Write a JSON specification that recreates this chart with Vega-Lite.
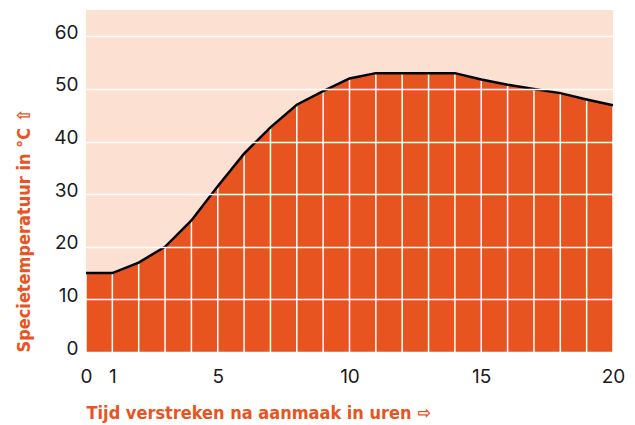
{
  "$schema": "https://vega.github.io/schema/vega-lite/v6.json",
  "width": 527,
  "height": 342,
  "autosize": {"type": "none"},
  "padding": {"left": 86, "top": 10, "right": 22, "bottom": 73},
  "background": "white",
  "view": {"fill": "#FCE1D2", "stroke": null},
  "data": {"values": [
    {"hour": 0, "temp": 15},
    {"hour": 1, "temp": 15},
    {"hour": 2, "temp": 17},
    {"hour": 3, "temp": 20},
    {"hour": 4, "temp": 25},
    {"hour": 5, "temp": 31.5},
    {"hour": 6, "temp": 37.7},
    {"hour": 7, "temp": 42.7},
    {"hour": 8, "temp": 47},
    {"hour": 9, "temp": 49.6},
    {"hour": 10, "temp": 52},
    {"hour": 11, "temp": 53},
    {"hour": 12, "temp": 53},
    {"hour": 13, "temp": 53},
    {"hour": 14, "temp": 53},
    {"hour": 15, "temp": 51.8},
    {"hour": 16, "temp": 50.8},
    {"hour": 17, "temp": 50},
    {"hour": 18, "temp": 49.2},
    {"hour": 19, "temp": 48},
    {"hour": 20, "temp": 46.9}
  ]},
  "encoding": {
    "x": {
      "field": "hour", "type": "quantitative",
      "scale": {"domain": [0, 20], "nice": false, "zero": false},
      "axis": {
        "values": [0, 1, 5, 10, 15, 20],
        "grid": false, "domain": false, "ticks": false,
        "labelFont": "Inter", "labelFontSize": 19, "labelColor": "#1a1a1a",
        "labelPadding": 15, "labelFlush": false,
        "title": "Tijd verstreken na aanmaak in uren  ⇨",
        "titleFont": "DejaVu Sans Condensed, Roboto", "titleFontWeight": "bold",
        "titleFontSize": 18, "titleColor": "#E8541F",
        "titleAnchor": "start", "titleAlign": "left", "titlePadding": 18
      }
    },
    "y": {
      "field": "temp", "type": "quantitative",
      "scale": {"domain": [0, 65], "nice": false},
      "axis": {
        "values": [0, 10, 20, 30, 40, 50, 60],
        "grid": true, "gridColor": "white", "gridWidth": 1.5, "zindex": 1,
        "domain": false, "ticks": false,
        "labelFont": "Inter", "labelFontSize": 19, "labelColor": "#1a1a1a",
        "labelPadding": 8, "labelOffset": -4,
        "title": "Specietemperatuur in °C  ⇧",
        "titleFont": "DejaVu Sans Condensed, Roboto", "titleFontWeight": "bold",
        "titleFontSize": 18, "titleColor": "#E8541F",
        "titleAnchor": "start", "titlePadding": 20
      }
    }
  },
  "layer": [
    {"mark": {"type": "area", "color": "#E8541F"}},
    {
      "mark": {"type": "rule", "color": "white", "strokeWidth": 1.5},
      "encoding": {"y": {"datum": 0, "type": "quantitative"}, "y2": {"field": "temp"}}
    },
    {"mark": {"type": "line", "color": "black", "strokeWidth": 2.5}}
  ]
}
